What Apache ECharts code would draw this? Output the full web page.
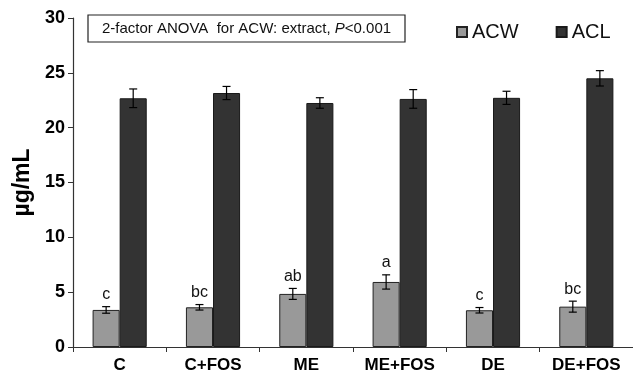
<!DOCTYPE html>
<html><head><meta charset="utf-8">
<script src="https://cdn.jsdelivr.net/npm/echarts@6/dist/echarts.min.js"></script>
<style>html,body{margin:0;padding:0;background:#fff}#c{width:633px;height:377px}</style>
</head><body><div id="c"></div>
<script>
var categories = ['C', 'C+FOS', 'ME', 'ME+FOS', 'DE', 'DE+FOS'];
var acw = [3.38, 3.62, 4.84, 5.93, 3.35, 3.68];
var acwErr = [0.3, 0.25, 0.5, 0.65, 0.25, 0.5];
var acwLetters = ['c', 'bc', 'ab', 'a', 'c', 'bc'];
var acl = [22.68, 23.16, 22.25, 22.62, 22.72, 24.5];
var aclErr = [0.85, 0.6, 0.48, 0.85, 0.6, 0.7];
var yTicks = [0, 5, 10, 15, 20, 25, 30];

var FONT = 'Arial, "Liberation Sans", sans-serif';
var GAP = 0.42;

function errSeries(name, vals, errs, side, letters) {
  return {
    type: 'custom', name: name + ' err', silent: true, z: 5,
    data: vals.map(function (v, i) { return [i, v, errs[i]]; }),
    renderItem: function (params, api) {
      var i = api.value(0), v = api.value(1), e = api.value(2);
      var band = api.size([1, 0])[0];
      var bw = band * (1 - GAP) / 2;
      var c = api.coord([i, v]);
      var x = c[0] + side * bw / 2;
      var top = api.coord([i, v + e])[1];
      var bot = api.coord([i, v - e])[1];
      var st = { stroke: '#000', lineWidth: 1.2 };
      var children = [
        { type: 'line', shape: { x1: x, y1: top, x2: x, y2: bot }, style: st },
        { type: 'line', shape: { x1: x - 4, y1: top, x2: x + 4, y2: top }, style: st },
        { type: 'line', shape: { x1: x - 4, y1: bot, x2: x + 4, y2: bot }, style: st }
      ];
      if (letters) {
        children.push({ type: 'text', style: { text: letters[i], x: x, y: top - 4, align: 'center', verticalAlign: 'bottom', font: '16px ' + FONT, fill: '#111' } });
      }
      return { type: 'group', children: children };
    }
  };
}

var chart = echarts.init(document.getElementById('c'));
chart.setOption({
  animation: false,
  backgroundColor: '#fff',
  grid: { left: 73, right: -1, top: 18, bottom: 30, containLabel: false },
  legend: {
    left: 451, top: 17, itemWidth: 10, itemHeight: 10, itemGap: 37,
    icon: 'rect',
    textStyle: { fontFamily: FONT, fontSize: 20, color: '#111', padding: [0, 0, 0, 0] },
    data: ['ACW', 'ACL']
  },
  xAxis: {
    type: 'category', data: categories,
    axisLine: { lineStyle: { color: '#333', width: 1.2 } },
    axisTick: { show: true, alignWithLabel: false, length: 5, lineStyle: { color: '#333' } },
    axisLabel: { fontFamily: FONT, fontWeight: 'bold', fontSize: 17, color: '#000', margin: 10 }
  },
  yAxis: {
    type: 'value', min: yTicks[0], max: yTicks[yTicks.length - 1], interval: 5,
    name: 'µg/mL', nameLocation: 'middle', nameGap: 38,
    nameTextStyle: { fontFamily: FONT, fontWeight: 'bold', fontSize: 23, color: '#000' },
    axisLine: { show: true, lineStyle: { color: '#333', width: 1.2 } },
    axisTick: { show: true, length: 5, lineStyle: { color: '#333' } },
    splitLine: { show: false },
    axisLabel: { fontFamily: FONT, fontWeight: 'bold', fontSize: 18, color: '#000', margin: 8 }
  },
  graphic: [
    { type: 'rect', shape: { x: 88, y: 15, width: 317, height: 27 }, style: { fill: '#fff', stroke: '#222', lineWidth: 1.2 }, z: 10 },
    { type: 'text', x: 246.5, y: 29, z: 11, style: {
      text: '{n|2-factor ANOVA  for ACW: extract, }{i|P}{n|<0.001}',
      align: 'center', verticalAlign: 'middle',
      rich: {
        n: { fontFamily: FONT, fontSize: 15, fill: '#111' },
        i: { fontFamily: FONT, fontSize: 15, fontStyle: 'italic', fill: '#111' }
      }
    } }
  ],
  series: [
    { type: 'bar', name: 'ACW', data: acw, barGap: '0%', barCategoryGap: (GAP * 100) + '%',
      itemStyle: { color: '#999999', borderColor: '#222', borderWidth: 1 } },
    { type: 'bar', name: 'ACL', data: acl, barGap: '0%', barCategoryGap: (GAP * 100) + '%',
      itemStyle: { color: '#333333', borderColor: '#1a1a1a', borderWidth: 1 } },
    errSeries('ACW', acw, acwErr, -1, acwLetters),
    errSeries('ACL', acl, aclErr, 1, null)
  ]
});
</script>
</body></html>
